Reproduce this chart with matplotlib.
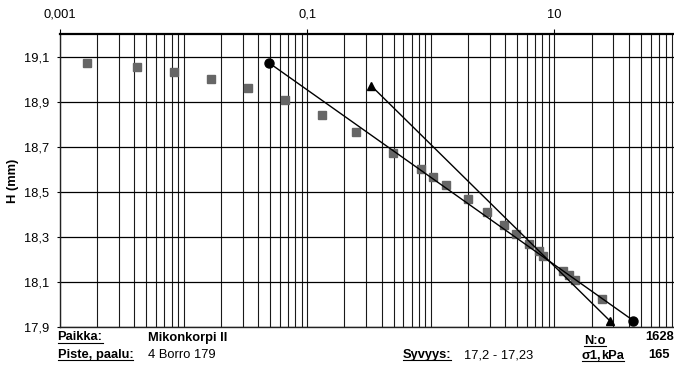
import matplotlib
matplotlib.use("Agg")
import matplotlib.pyplot as plt
from matplotlib.ticker import FixedLocator, FixedFormatter, NullFormatter
from matplotlib.lines import Line2D

plt.rcParams['font.family'] = ['Liberation Sans', 'DejaVu Sans']

# Settlement readings: time (h) and sample height (mm)
times_h = [0.00166, 0.00417, 0.00832, 0.01667, 0.0334, 0.0666, 0.1325, 0.248,
           0.497, 0.838, 1.047, 1.335, 2.0, 2.865, 3.93, 4.92, 6.24, 7.56,
           8.15, 11.83, 13.23, 14.79, 24.1]
heights_mm = [19.073, 19.052, 19.031, 19.002, 18.962, 18.906, 18.839, 18.763,
              18.673, 18.600, 18.567, 18.532, 18.468, 18.410, 18.351, 18.313,
              18.269, 18.237, 18.217, 18.149, 18.129, 18.109, 18.025]

# Construction lines
circle_line_x = [0.0488, 43.6]
circle_line_y = [19.073, 17.928]
triangle_line_x = [0.330, 28.4]
triangle_line_y = [18.970, 17.925]

x_major = [0.001, 0.1, 10]
x_major_labels = ["0,001", "0,1", "10"]
y_ticks = [17.9, 18.1, 18.3, 18.5, 18.7, 18.9, 19.1]
y_tick_labels = ["17,9", "18,1", "18,3", "18,5", "18,7", "18,9", "19,1"]

place_label, place_value = "Paikka:", "Mikonkorpi II"
point_label, point_value = "Piste, paalu:", "4 Borro 179"
depth_label, depth_value = "Syvyys:", "17,2 - 17,23"
no_label, no_value = "N:o", "1628"
stress_label, stress_unit, stress_value = "σ1,", "kPa", "165"

FS = 9.3
W, H = 674, 367
fig = plt.figure(figsize=(W / 100, H / 100), dpi=100)

left_px, right_px, top_px, bottom_px = 60, 678, 34, 327
ax = fig.add_axes([left_px / W, 1 - bottom_px / H,
                   (right_px - left_px) / W, (bottom_px - top_px) / H])

ax.set_xscale('log')
ax.set_xlim(0.001, 100)
ax.set_ylim(17.9, 19.2)

# vertical grid at every 1..9 x 10^n
minor_x = [k * 10.0 ** n for n in range(-3, 2) for k in range(1, 10)] + [100]
ax.xaxis.set_major_locator(FixedLocator(x_major))
ax.xaxis.set_major_formatter(FixedFormatter(x_major_labels))
ax.xaxis.set_minor_locator(FixedLocator(minor_x))
ax.xaxis.set_minor_formatter(NullFormatter())
ax.xaxis.tick_top()
ax.tick_params(axis='x', which='major', direction='out', length=3.5, width=0.8,
               pad=6, labelsize=FS, colors='black')
ax.tick_params(axis='x', which='minor', length=0)

ax.set_yticks(y_ticks)
ax.set_yticklabels(y_tick_labels)
ax.tick_params(axis='y', direction='out', length=2, width=0.8, pad=6,
               labelsize=FS)

ax.grid(True, axis='x', which='both', color='#1a1a1a', linewidth=0.8)
ax.grid(True, axis='y', which='major', color='black', linewidth=0.9)
ax.set_axisbelow(True)

for side in ['left', 'bottom']:
    ax.spines[side].set_linewidth(1.0)
    ax.spines[side].set_color('#222222')
ax.spines['top'].set_linewidth(1.6)
ax.spines['top'].set_color('black')

ax.set_ylabel("H (mm)", fontsize=FS, fontweight='bold')
ax.yaxis.set_label_coords((19 - left_px) / (right_px - left_px), 0.5)

ax.plot(times_h, heights_mm, linestyle='none', marker='s', markersize=6.2,
        color='#666666', markeredgecolor='#666666', zorder=3)
ax.plot(circle_line_x, circle_line_y, color='black', linewidth=1.0,
        marker='o', markersize=6.5, zorder=4, clip_on=False)
ax.plot(triangle_line_x, triangle_line_y, color='black', linewidth=1.0,
        marker='^', markersize=6.3, zorder=4, clip_on=False)

# Footer texts (pixel positions, baseline)
underlined = []


def put(text, x, y, bold=False, underline=False):
    t = fig.text(x / W, 1 - y / H, text, fontsize=FS,
                 fontweight='bold' if bold else 'normal',
                 ha='left', va='baseline')
    if underline:
        underlined.append(t)
    return t


put(place_label, 57.5, 340.5, bold=True, underline=True)
put(place_value, 148.5, 340.5, bold=True)
put(point_label, 57.5, 358.3, bold=True, underline=True)
put(point_value, 148.5, 358.3)
put(depth_label, 402.5, 358.3, bold=True, underline=True)
put(depth_value, 463.5, 358.3)
put(no_label, 584, 343.5, bold=True, underline=True)
put(no_value, 645.5, 340.5, bold=True)
put(stress_value, 648, 358.3, bold=True)
put(stress_label, 581.5, 359.3, bold=True, underline=True)
put(stress_unit, 601.5, 359.3, bold=True, underline=True)

fig.canvas.draw()
renderer = fig.canvas.get_renderer()
for t in underlined:
    bb = t.get_window_extent(renderer)
    _, by = fig.transFigure.transform(t.get_position())
    yline = (by - 2.0) / H
    fig.add_artist(Line2D([bb.x0 / W, bb.x1 / W], [yline, yline],
                          transform=fig.transFigure, color='black',
                          linewidth=0.8))

fig.savefig("out.png", dpi=100)
